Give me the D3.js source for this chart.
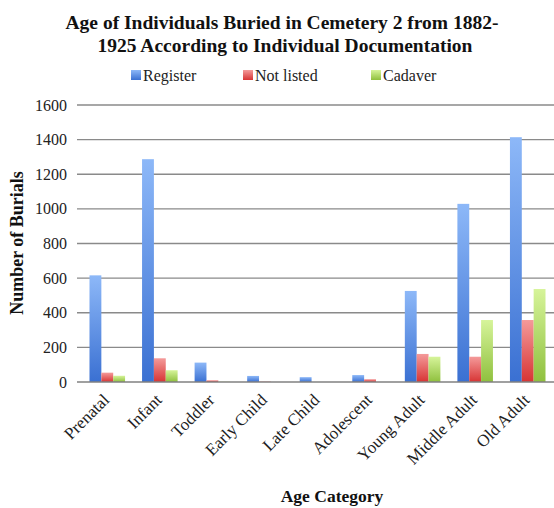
<!DOCTYPE html>
<html><head><meta charset="utf-8">
<script src="https://cdn.jsdelivr.net/npm/d3@7"></script>
<style>body{margin:0;background:#fff}svg{display:block}</style>
</head><body>
<script>
const categories = ["Prenatal","Infant","Toddler","Early Child","Late Child","Adolescent","Young Adult","Middle Adult","Old Adult"];
const seriesNames = ["Register","Not listed","Cadaver"];
const register = [616, 1287, 112, 35, 28, 40, 526, 1029, 1414];
const notListed = [54, 137, 10, 3, 0, 16, 162, 146, 358];
const cadaver = [36, 68, 2, 0, 0, 0, 146, 358, 537];
const yTicks = [0,200,400,600,800,1000,1200,1400,1600];

(function(){
const W=554,H=508;
const font = "'Liberation Serif', 'DejaVu Serif', serif";
const svg = d3.select("body").append("svg").attr("width",W).attr("height",H);
const pL=81,pR=554,pT=105,pB=382;
const x = d3.scaleBand().domain(categories).range([pL,pR]).paddingInner(0).paddingOuter(0);
const x1 = d3.scaleBand().domain(seriesNames).range([8.5, x.bandwidth()-8.5]);
const y = d3.scaleLinear().domain([0,1600]).range([pB,pT]);

const defs = svg.append("defs");
const grads = [["gB","#8db8f8","#3a70d2"],["gR","#f49a9a","#d73434"],["gG","#d6f49a","#8fc03e"]];
grads.forEach(([id,c1,c2])=>{
  const g = defs.append("linearGradient").attr("id",id).attr("x1",0).attr("y1",0).attr("x2",0).attr("y2",1);
  g.append("stop").attr("offset","0%").attr("stop-color",c1);
  g.append("stop").attr("offset","100%").attr("stop-color",c2);
});
const fills = {"Register":"url(#gB)","Not listed":"url(#gR)","Cadaver":"url(#gG)"};
const data = [register, notListed, cadaver];

svg.append("g").selectAll("line").data(yTicks.filter(d=>d>0)).join("line")
  .attr("x1",pL-4).attr("x2",pR).attr("y1",d=>y(d)).attr("y2",d=>y(d))
  .attr("stroke","#8a8a8a").attr("stroke-width",1.3);

svg.append("g").selectAll("text").data(yTicks).join("text")
  .attr("x",67).attr("y",d=>y(d)+5.5).attr("text-anchor","end")
  .attr("font-family",font).attr("font-size",16).attr("fill","#222").text(d=>d);

const gBars = svg.append("g");
categories.forEach((c,i)=>{
  seriesNames.forEach((s,j)=>{
    const v = data[j][i];
    gBars.append("rect").attr("x",x(c)+x1(s)).attr("width",x1.bandwidth())
      .attr("y",y(v)).attr("height",pB-y(v)).attr("fill",fills[s]);
  });
});

svg.append("line").attr("x1",pL-4).attr("x2",pR).attr("y1",pB).attr("y2",pB)
  .attr("stroke","#808080").attr("stroke-width",1.6);

svg.append("g").selectAll("text").data(categories).join("text")
  .attr("transform",d=>`translate(${x(d)+x.bandwidth()/2+3},${pB+19}) rotate(-45)`)
  .attr("text-anchor","end").attr("font-family",font).attr("font-size",17).attr("fill","#222").text(d=>d);

const title = svg.append("text").attr("text-anchor","middle").attr("font-family",font)
  .attr("font-weight","bold").attr("font-size",19.5).attr("fill","#111");
title.append("tspan").attr("x",282).attr("y",29).text("Age of Individuals Buried in Cemetery 2 from 1882-");
title.append("tspan").attr("x",285).attr("y",52).text("1925 According to Individual Documentation");

const legX = [131,243,371];
const legCol = ["url(#gB)","url(#gR)","url(#gG)"];
seriesNames.forEach((s,i)=>{
  svg.append("rect").attr("x",legX[i]).attr("y",70).attr("width",10).attr("height",10).attr("fill",legCol[i]);
  svg.append("text").attr("x",legX[i]+12).attr("y",81).attr("font-family",font).attr("font-size",16)
    .attr("fill","#222").text(s);
});

svg.append("text").attr("transform","translate(23,243) rotate(-90)").attr("text-anchor","middle")
  .attr("font-family",font).attr("font-weight","bold").attr("font-size",18).attr("fill","#111").text("Number of Burials");
svg.append("text").attr("x",332).attr("y",502).attr("text-anchor","middle")
  .attr("font-family",font).attr("font-weight","bold").attr("font-size",17.5).attr("fill","#111").text("Age Category");
})();
</script>
</body></html>
